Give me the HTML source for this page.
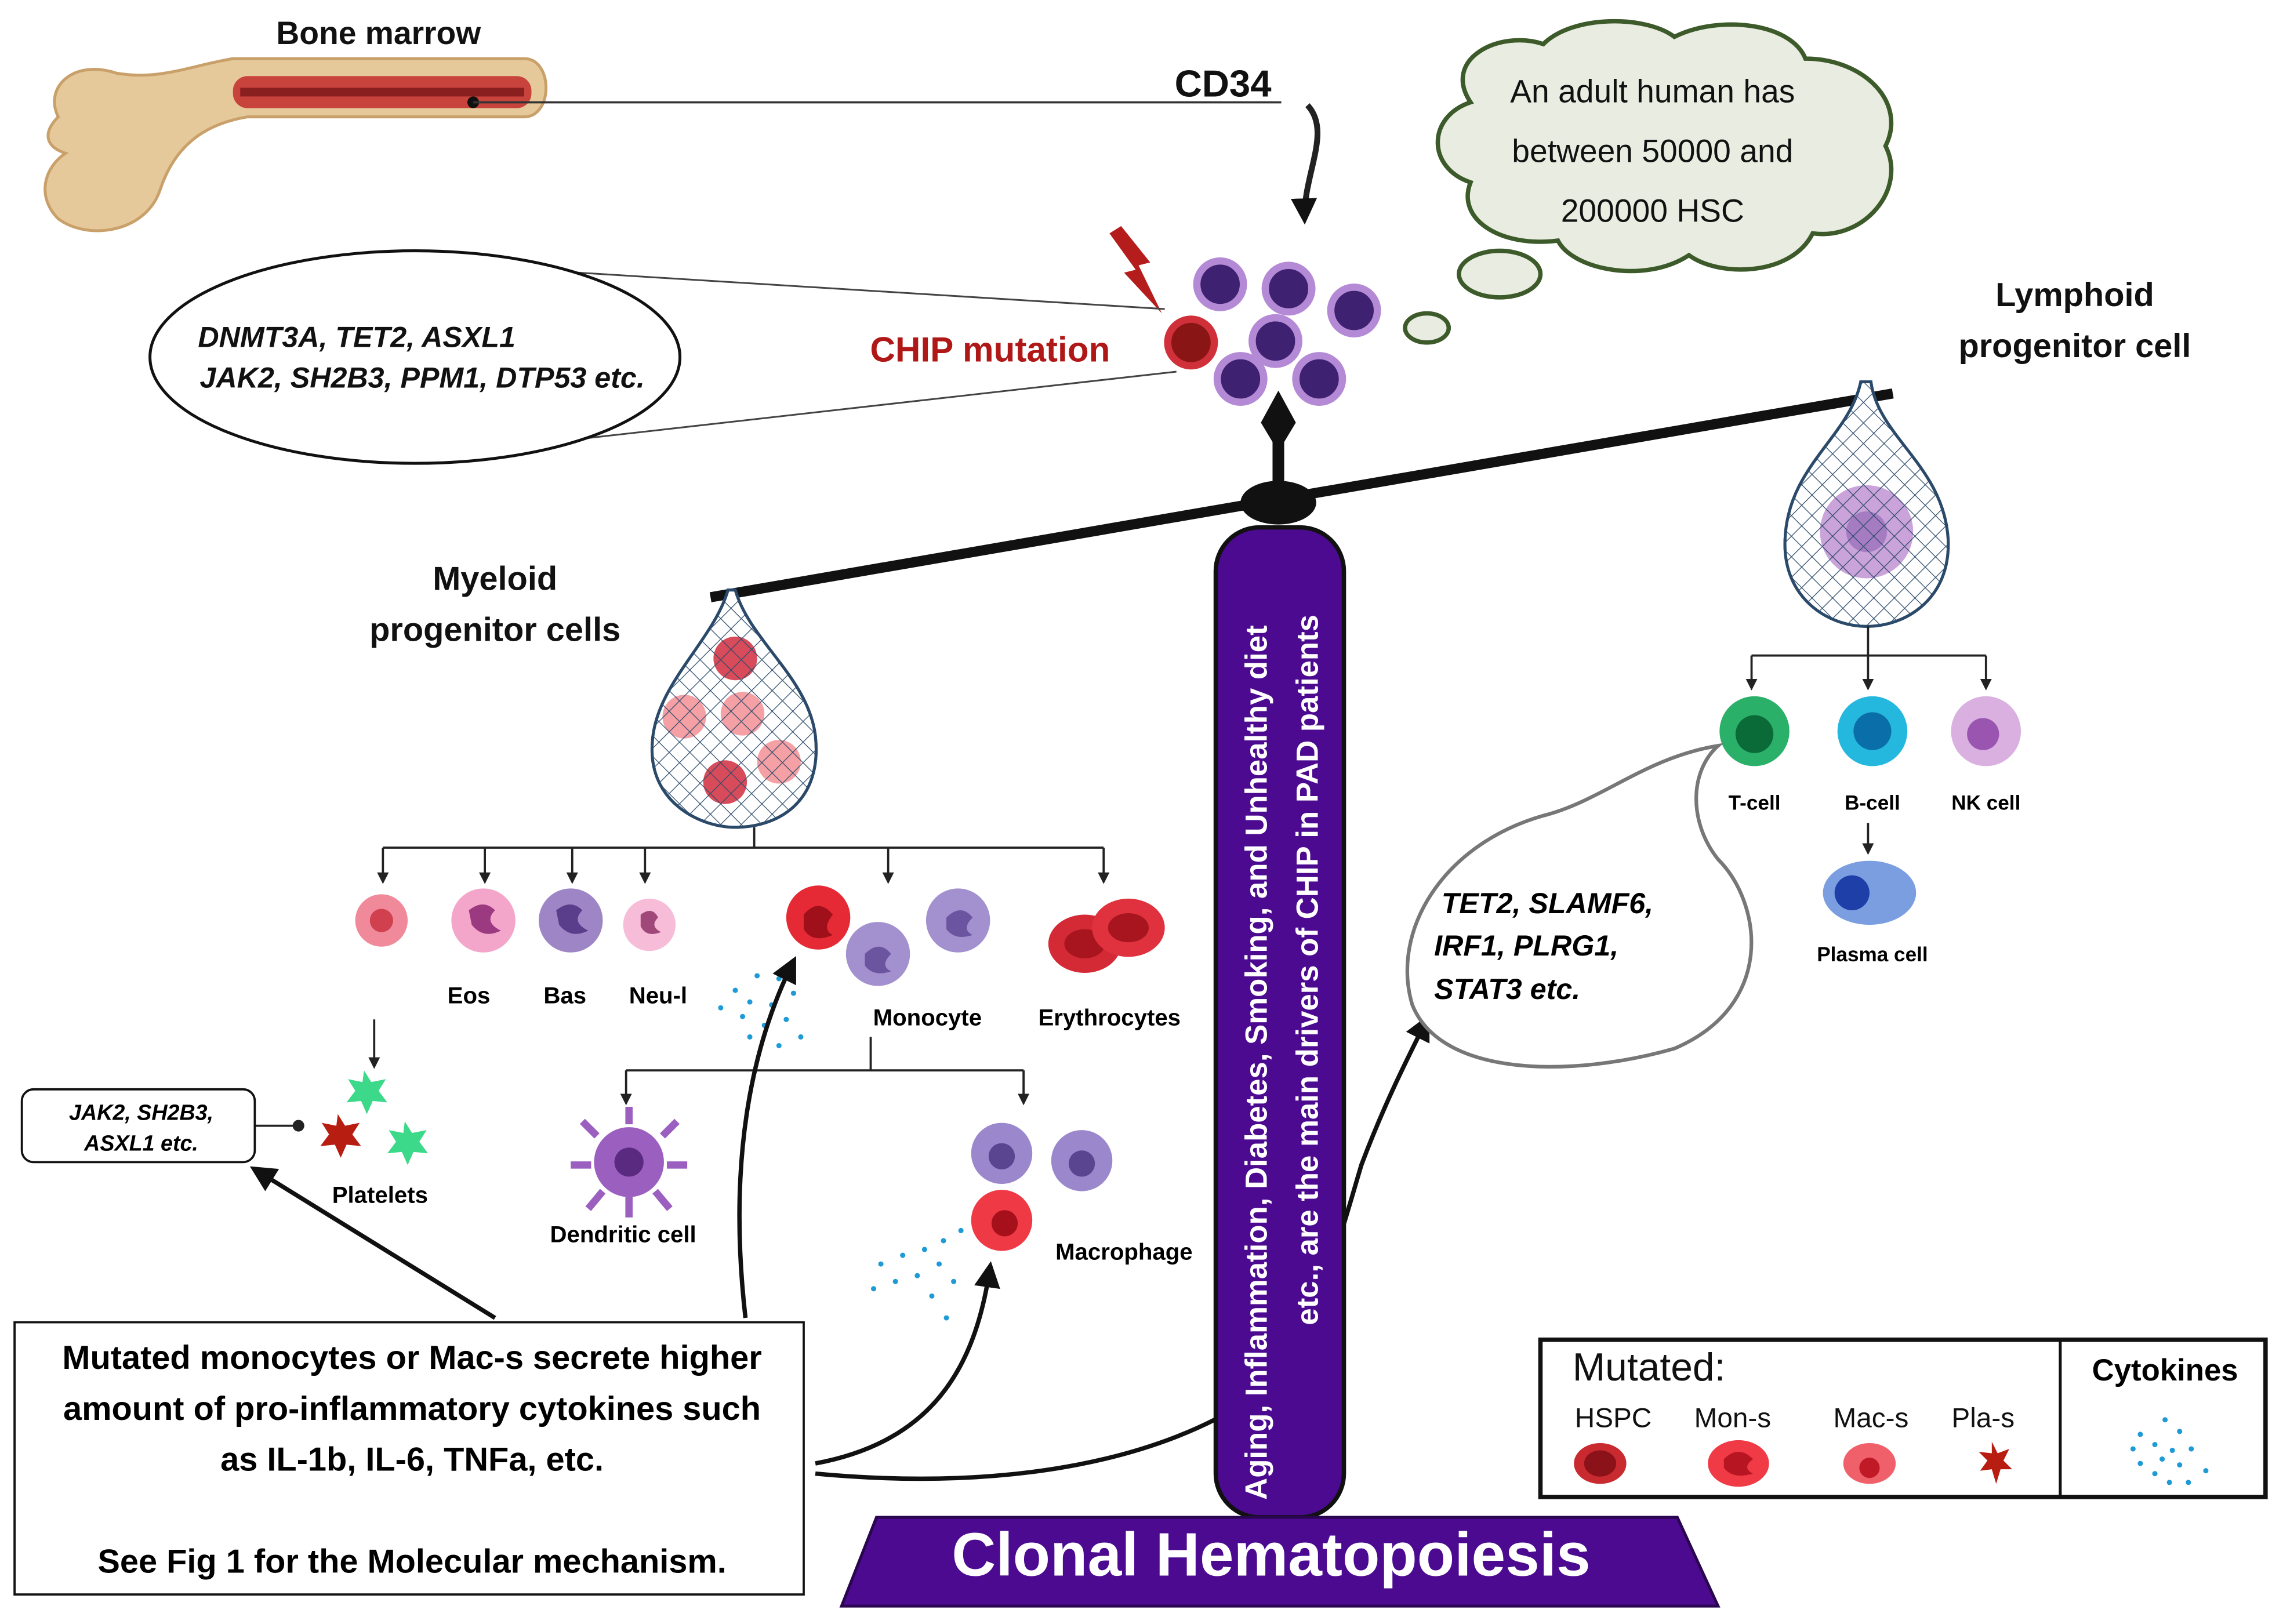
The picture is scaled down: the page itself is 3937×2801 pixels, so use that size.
<!DOCTYPE html>
<html><head><meta charset="utf-8"><style>
html,body{margin:0;padding:0;background:#fff}
svg{display:block}
text{font-family:"Liberation Sans",sans-serif}
.b{font-weight:bold}
</style></head><body>
<svg width="3937" height="2801" viewBox="0 0 1568 1115" xmlns="http://www.w3.org/2000/svg">
<defs>
<marker id="ah" markerWidth="8" markerHeight="8" refX="6" refY="4" orient="auto" markerUnits="userSpaceOnUse"><path d="M0,0 L8,4 L0,8 z" fill="#222"/></marker>
<marker id="ab" markerWidth="18" markerHeight="18" refX="14" refY="9" orient="auto" markerUnits="userSpaceOnUse"><path d="M0,0 L18,9 L0,18 z" fill="#111"/></marker>
<pattern id="net" width="10" height="10" patternUnits="userSpaceOnUse" patternTransform="rotate(45)"><path d="M0,0 H10 M0,0 V10" stroke="#2b4a6a" stroke-width="1"/></pattern>
</defs>

<!-- bone -->
<path d="M40,80 C30,60 50,40 80,50 C110,55 130,45 160,40 L360,40 C380,40 380,80 360,80 L170,80 C140,85 120,100 110,130 C100,160 60,165 40,150 C25,135 30,115 45,105 C30,100 30,90 40,80 z" fill="#e6c99a" stroke="#c9a06a" stroke-width="2"/>
<rect x="160" y="52" width="205" height="22" rx="10" fill="#c9433d"/>
<rect x="165" y="60" width="195" height="6" fill="#8a1f1f"/>
<circle cx="325" cy="70" r="4" fill="#111"/>
<text x="260" y="30" class="b" font-size="22" text-anchor="middle" fill="#111">Bone marrow</text>
<line x1="325" y1="70" x2="880" y2="70" stroke="#333" stroke-width="1.5"/>
<text x="840" y="66" class="b" font-size="26" text-anchor="middle" fill="#111">CD34</text>
<path d="M898,72 C915,90 895,120 896,150" fill="none" stroke="#222" stroke-width="4" marker-end="url(#ab)"/>

<!-- cloud -->
<path d="M1010,70 C990,40 1030,20 1060,30 C1080,10 1130,10 1150,25 C1180,10 1230,15 1240,40 C1280,40 1310,70 1295,100 C1310,130 1280,165 1245,160 C1230,190 1180,190 1160,175 C1130,195 1080,185 1070,165 C1030,170 1000,150 1010,125 C980,115 980,80 1010,70 z" fill="#e9ede1" stroke="#3d5a2a" stroke-width="3"/>
<text x="1135" y="70" font-size="22" text-anchor="middle" fill="#111">An adult human has</text>
<text x="1135" y="111" font-size="22" text-anchor="middle" fill="#111">between 50000  and</text>
<text x="1135" y="152" font-size="22" text-anchor="middle" fill="#111">200000 HSC</text>
<ellipse cx="1030" cy="188" rx="28" ry="16" fill="#e9ede1" stroke="#3d5a2a" stroke-width="3"/>
<ellipse cx="980" cy="225" rx="15" ry="10" fill="#e9ede1" stroke="#3d5a2a" stroke-width="3"/>

<!-- HSC cells -->
<g stroke="#b48ad6" stroke-width="5" fill="#3e2170">
<circle cx="838" cy="195" r="16"/><circle cx="885" cy="198" r="16"/><circle cx="930" cy="213" r="16"/>
<circle cx="876" cy="234" r="16"/><circle cx="852" cy="260" r="16"/><circle cx="906" cy="260" r="16"/>
</g>
<circle cx="818" cy="235" r="16" fill="#8a1515" stroke="#d0303a" stroke-width="5"/>
<path d="M762,160 L780,185 L772,187 L798,215 L782,182 L790,180 L770,155 z" fill="#b51d1d"/>
<text x="680" y="248" class="b" font-size="24" text-anchor="middle" fill="#b01818">CHIP mutation</text>

<!-- ellipse -->
<line x1="365" y1="185" x2="800" y2="212" stroke="#444" stroke-width="1.2"/>
<line x1="365" y1="305" x2="808" y2="255" stroke="#444" stroke-width="1.2"/>
<ellipse cx="285" cy="245" rx="182" ry="73" fill="#fff" stroke="#111" stroke-width="2"/>
<text x="245" y="238" class="b" font-style="italic" font-size="20" text-anchor="middle" fill="#111">DNMT3A, TET2, ASXL1</text>
<text x="290" y="266" class="b" font-style="italic" font-size="20" text-anchor="middle" fill="#111">JAK2, SH2B3, PPM1, DTP53 etc.</text>

<!-- pivot & beam -->
<path d="M878,268 L890,290 L878,310 L866,290 z" fill="#111"/>
<rect x="874" y="300" width="8" height="40" fill="#111"/>
<line x1="488" y1="410" x2="1300" y2="270" stroke="#111" stroke-width="7"/>
<ellipse cx="878" cy="345" rx="26" ry="15" fill="#111"/>

<!-- myeloid bag -->
<text x="340" y="405" class="b" font-size="23" text-anchor="middle" fill="#111">Myeloid</text>
<text x="340" y="440" class="b" font-size="23" text-anchor="middle" fill="#111">progenitor cells</text>
<path d="M500,405 C490,440 450,470 448,510 C445,550 480,568 505,568 C535,568 565,550 560,505 C555,465 515,440 505,405 z" fill="#fff" stroke="#2b4a6a" stroke-width="2"/>
<g fill="#d84b5a"><circle cx="505" cy="452" r="15"/><circle cx="498" cy="537" r="15"/></g>
<g fill="#f4a0a5"><circle cx="470" cy="492" r="15"/><circle cx="510" cy="490" r="15"/><circle cx="535" cy="523" r="15"/></g>
<path d="M500,405 C490,440 450,470 448,510 C445,550 480,568 505,568 C535,568 565,550 560,505 C555,465 515,440 505,405 z" fill="url(#net)" stroke="#2b4a6a" stroke-width="2"/>

<!-- lymphoid bag -->
<text x="1425" y="210" class="b" font-size="23" text-anchor="middle" fill="#111">Lymphoid</text>
<text x="1425" y="245" class="b" font-size="23" text-anchor="middle" fill="#111">progenitor cell</text>
<path d="M1278,262 C1270,300 1228,320 1226,370 C1224,410 1255,430 1282,430 C1310,430 1340,410 1338,370 C1335,320 1290,300 1285,262 z" fill="#fff" stroke="#2b4a6a" stroke-width="2"/>
<circle cx="1282" cy="365" r="32" fill="#c9a3d9"/><circle cx="1282" cy="365" r="14" fill="#a57cc2"/>
<path d="M1278,262 C1270,300 1228,320 1226,370 C1224,410 1255,430 1282,430 C1310,430 1340,410 1338,370 C1335,320 1290,300 1285,262 z" fill="url(#net)" stroke="#2b4a6a" stroke-width="2"/>

<!-- myeloid tree -->
<g stroke="#222" stroke-width="1.5" fill="none">
<line x1="518" y1="568" x2="518" y2="582"/>
<line x1="263" y1="582" x2="758" y2="582"/>
<line x1="263" y1="582" x2="263" y2="605" marker-end="url(#ah)"/>
<line x1="333" y1="582" x2="333" y2="605" marker-end="url(#ah)"/>
<line x1="393" y1="582" x2="393" y2="605" marker-end="url(#ah)"/>
<line x1="443" y1="582" x2="443" y2="605" marker-end="url(#ah)"/>
<line x1="610" y1="582" x2="610" y2="605" marker-end="url(#ah)"/>
<line x1="758" y1="582" x2="758" y2="605" marker-end="url(#ah)"/>
<line x1="257" y1="700" x2="257" y2="732" marker-end="url(#ah)"/>
<line x1="598" y1="712" x2="598" y2="735"/>
<line x1="430" y1="735" x2="703" y2="735"/>
<line x1="430" y1="735" x2="430" y2="757" marker-end="url(#ah)"/>
<line x1="703" y1="735" x2="703" y2="757" marker-end="url(#ah)"/>
</g>
<circle cx="262" cy="632" r="18" fill="#f0899a"/><circle cx="262" cy="632" r="8" fill="#d0404f"/>
<circle cx="332" cy="632" r="22" fill="#f3a6c9"/><path d="M322,625 q10,-8 18,0 q-8,8 4,14 q-12,6 -20,-4z" fill="#9b3a80"/>
<circle cx="392" cy="632" r="22" fill="#9e86c6"/><path d="M382,625 q10,-8 18,0 q-8,8 4,14 q-12,6 -20,-4z" fill="#5a3e8c"/>
<circle cx="446" cy="635" r="18" fill="#f7bcd8"/><path d="M440,628 q8,-6 12,2 q-6,6 2,10 q-10,4 -14,-4z" fill="#a0487a"/>
<text x="322" y="689" class="b" font-size="16" text-anchor="middle">Eos</text>
<text x="388" y="689" class="b" font-size="16" text-anchor="middle">Bas</text>
<text x="452" y="689" class="b" font-size="16" text-anchor="middle">Neu-l</text>
<circle cx="562" cy="630" r="22" fill="#e62a35"/><path d="M552,628 q10,-12 20,0 q-8,10 0,14 q-14,6 -20,-4z" fill="#a0101a"/>
<circle cx="603" cy="655" r="22" fill="#a390cf"/><path d="M594,655 q10,-10 18,0 q-8,8 0,12 q-12,4 -18,-4z" fill="#6b54a0"/>
<circle cx="658" cy="632" r="22" fill="#a390cf"/><path d="M650,630 q10,-10 18,0 q-8,8 0,12 q-12,4 -18,-4z" fill="#6b54a0"/>
<text x="637" y="704" class="b" font-size="16" text-anchor="middle">Monocyte</text>
<ellipse cx="745" cy="648" rx="25" ry="20" fill="#d42a35"/><ellipse cx="745" cy="648" rx="14" ry="10" fill="#a8151f"/>
<ellipse cx="775" cy="637" rx="25" ry="20" fill="#e0323e"/><ellipse cx="775" cy="637" rx="14" ry="10" fill="#a8151f"/>
<text x="762" y="704" class="b" font-size="16" text-anchor="middle">Erythrocytes</text>
<!-- platelets -->
<g fill="#3cd98a"><path d="M250,735 l5,8 10,-2 -5,8 6,8 -10,-1 -4,9 -4,-9 -10,1 6,-8 -5,-8 10,2z"/><path d="M278,770 l5,8 10,-2 -5,8 6,8 -10,-1 -4,9 -4,-9 -10,1 6,-8 -5,-8 10,2z"/></g>
<path d="M232,765 l5,8 10,-2 -5,8 6,8 -10,-1 -4,9 -4,-9 -10,1 6,-8 -5,-8 10,2z" fill="#b81d12"/>
<text x="261" y="826" class="b" font-size="16" text-anchor="middle">Platelets</text>
<line x1="175" y1="773" x2="205" y2="773" stroke="#222" stroke-width="1.5"/><circle cx="205" cy="773" r="4" fill="#222"/>
<rect x="15" y="748" width="160" height="50" rx="8" fill="#fff" stroke="#111" stroke-width="1.5"/>
<text x="97" y="769" class="b" font-style="italic" font-size="15" text-anchor="middle">JAK2, SH2B3,</text>
<text x="97" y="790" class="b" font-style="italic" font-size="15" text-anchor="middle">ASXL1 etc.</text>
<!-- dendritic -->
<g fill="#9b5fc0"><circle cx="432" cy="798" r="24"/>
<path d="M410,780 l-10,-10 M432,772 l0,-12 M455,780 l10,-10 M458,800 l14,0 M450,818 l10,12 M432,822 l0,14 M414,818 l-10,12 M406,800 l-14,0" stroke="#9b5fc0" stroke-width="5"/></g>
<circle cx="432" cy="798" r="10" fill="#5a2a80"/>
<text x="428" y="853" class="b" font-size="16" text-anchor="middle">Dendritic cell</text>
<!-- macrophages -->
<circle cx="688" cy="792" r="21" fill="#9a87cc"/><circle cx="688" cy="794" r="9" fill="#5a4590"/>
<circle cx="743" cy="797" r="21" fill="#9a87cc"/><circle cx="743" cy="799" r="9" fill="#5a4590"/>
<circle cx="688" cy="838" r="21" fill="#ef3a46"/><circle cx="690" cy="840" r="9" fill="#a5101a"/>
<text x="772" y="865" class="b" font-size="16" text-anchor="middle">Macrophage</text>
<!-- cytokine dots -->
<g fill="#1e9bd6">
<circle cx="545" cy="660" r="1.8"/><circle cx="535" cy="672" r="1.8"/><circle cx="520" cy="670" r="1.8"/><circle cx="505" cy="680" r="1.8"/><circle cx="515" cy="688" r="1.8"/><circle cx="530" cy="690" r="1.8"/><circle cx="545" cy="682" r="1.8"/><circle cx="495" cy="692" r="1.8"/><circle cx="510" cy="698" r="1.8"/><circle cx="525" cy="704" r="1.8"/><circle cx="540" cy="700" r="1.8"/><circle cx="550" cy="712" r="1.8"/><circle cx="535" cy="718" r="1.8"/><circle cx="515" cy="712" r="1.8"/>
<circle cx="660" cy="845" r="1.8"/><circle cx="648" cy="852" r="1.8"/><circle cx="635" cy="858" r="1.8"/><circle cx="620" cy="862" r="1.8"/><circle cx="605" cy="868" r="1.8"/><circle cx="645" cy="868" r="1.8"/><circle cx="630" cy="876" r="1.8"/><circle cx="615" cy="880" r="1.8"/><circle cx="655" cy="880" r="1.8"/><circle cx="640" cy="890" r="1.8"/><circle cx="650" cy="905" r="1.8"/><circle cx="600" cy="885" r="1.8"/>
</g>
<!-- big arrows -->
<g stroke="#111" stroke-width="3" fill="none">
<path d="M340,905 L175,803" marker-end="url(#ab)"/>
<path d="M512,905 C500,800 515,720 545,660" marker-end="url(#ab)"/>
<path d="M560,1005 C640,990 670,940 680,870" marker-end="url(#ab)"/>
<path d="M560,1012 C700,1025 800,1000 860,960 C900,930 920,850 935,800 C950,760 965,730 980,700" marker-end="url(#ab)"/>
</g>

<!-- column (drawn over arrows) -->
<rect x="835" y="362" width="88" height="680" rx="30" fill="#4b0a8f" stroke="#111" stroke-width="3"/>
<text transform="translate(870,1030) rotate(-90)" class="b" font-size="21" fill="#fff">Aging, Inflammation, Diabetes, Smoking, and Unhealthy diet</text>
<text transform="translate(905,910) rotate(-90)" class="b" font-size="21" fill="#fff">etc.,  are the main drivers of CHIP in PAD patients</text>
<path d="M602,1042 L1152,1042 L1180,1103 L578,1103 z" fill="#4b0a8f" stroke="#2a0650" stroke-width="2"/>
<text x="873" y="1082" class="b" font-size="42" text-anchor="middle" fill="#fff">Clonal Hematopoiesis</text>

<!-- text box -->
<rect x="10" y="908" width="542" height="187" fill="#fff" stroke="#111" stroke-width="1.5"/>
<g class="b" font-size="23" text-anchor="middle" font-weight="bold">
<text x="283" y="940">Mutated monocytes or Mac-s secrete higher</text>
<text x="283" y="975">amount of pro-inflammatory cytokines such</text>
<text x="283" y="1010">as IL-1b, IL-6, TNFa, etc.</text>
<text x="283" y="1080">See Fig 1 for the Molecular mechanism.</text>
</g>
<!-- lymphoid tree -->
<g stroke="#222" stroke-width="1.5" fill="none">
<line x1="1283" y1="430" x2="1283" y2="450"/>
<line x1="1203" y1="450" x2="1364" y2="450"/>
<line x1="1203" y1="450" x2="1203" y2="472" marker-end="url(#ah)"/>
<line x1="1283" y1="450" x2="1283" y2="472" marker-end="url(#ah)"/>
<line x1="1364" y1="450" x2="1364" y2="472" marker-end="url(#ah)"/>
<line x1="1283" y1="565" x2="1283" y2="585" marker-end="url(#ah)"/>
</g>
<circle cx="1205" cy="502" r="24" fill="#2bb06a"/><circle cx="1205" cy="504" r="13" fill="#0a6a38"/>
<circle cx="1286" cy="502" r="24" fill="#25b8de"/><circle cx="1286" cy="502" r="13" fill="#0a6fa8"/>
<circle cx="1364" cy="502" r="24" fill="#d9b0e0"/><circle cx="1362" cy="504" r="11" fill="#9a55b0"/>
<text x="1205" y="556" class="b" font-size="14" text-anchor="middle">T-cell</text>
<text x="1286" y="556" class="b" font-size="14" text-anchor="middle">B-cell</text>
<text x="1364" y="556" class="b" font-size="14" text-anchor="middle">NK cell</text>
<ellipse cx="1284" cy="613" rx="32" ry="22" fill="#7b9ee0"/><circle cx="1272" cy="613" r="12" fill="#1e3fa8"/>
<text x="1286" y="660" class="b" font-size="14" text-anchor="middle">Plasma cell</text>
<!-- TET2 bubble -->
<path d="M1180,512 C1130,520 1100,550 1060,560 C990,580 955,640 970,690 C990,740 1080,740 1150,720 C1220,690 1210,620 1180,590 C1160,565 1160,530 1180,512 z" fill="#fff" stroke="#777" stroke-width="2.5"/>
<g class="b" font-style="italic" font-size="20" font-weight="bold">
<text x="990" y="627">TET2, SLAMF6,</text>
<text x="985" y="656">IRF1, PLRG1,</text>
<text x="985" y="686">STAT3 etc.</text>
</g>
<!-- legend -->
<rect x="1058" y="920" width="498" height="108" fill="#fff" stroke="#111" stroke-width="3"/>
<line x1="1415" y1="920" x2="1415" y2="1028" stroke="#111" stroke-width="2"/>
<text x="1080" y="948" font-size="27" fill="#111">Mutated:</text>
<text x="1487" y="948" class="b" font-size="21" text-anchor="middle">Cytokines</text>
<g font-size="19" text-anchor="middle" fill="#111">
<text x="1108" y="980">HSPC</text><text x="1190" y="980">Mon-s</text><text x="1285" y="980">Mac-s</text><text x="1362" y="980">Pla-s</text>
</g>
<ellipse cx="1099" cy="1005" rx="18" ry="14" fill="#c82a30"/><ellipse cx="1099" cy="1005" rx="11" ry="9" fill="#8a1218"/>
<ellipse cx="1194" cy="1005" rx="21" ry="16" fill="#f03a45"/><path d="M1184,1002 q10,-10 20,0 q-8,6 0,10 q-14,4 -20,-4z" fill="#b81522"/>
<ellipse cx="1284" cy="1005" rx="18" ry="14" fill="#f0606a"/><circle cx="1284" cy="1008" r="7" fill="#c01a26"/>
<path d="M1368,990 l4,8 8,-3 -4,8 6,6 -8,0 -3,10 -3,-10 -8,1 5,-7 -6,-6 9,1z" fill="#b81d12"/>
<g fill="#1e9bd6">
<circle cx="1487" cy="975" r="1.8"/><circle cx="1470" cy="985" r="1.8"/><circle cx="1497" cy="983" r="1.8"/><circle cx="1480" cy="992" r="1.8"/><circle cx="1465" cy="995" r="1.8"/><circle cx="1492" cy="996" r="1.8"/><circle cx="1505" cy="995" r="1.8"/><circle cx="1485" cy="1002" r="1.8"/><circle cx="1470" cy="1005" r="1.8"/><circle cx="1497" cy="1006" r="1.8"/><circle cx="1480" cy="1012" r="1.8"/><circle cx="1515" cy="1010" r="1.8"/><circle cx="1490" cy="1018" r="1.8"/><circle cx="1503" cy="1018" r="1.8"/>
</g>
</svg>
</body></html>
